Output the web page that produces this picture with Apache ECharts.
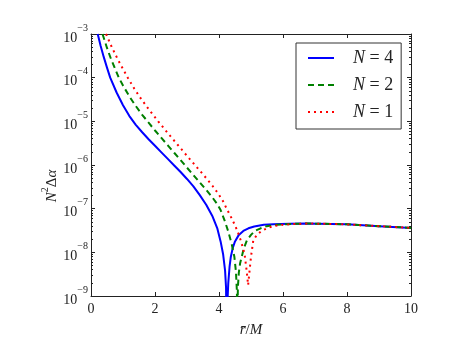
<!DOCTYPE html>
<html>
<head>
<meta charset="utf-8">
<script src="https://cdn.jsdelivr.net/npm/echarts@6/dist/echarts.min.js"></script>
<style>
html, body { margin: 0; padding: 0; background: #fff; }
#chart { width: 457px; height: 343px; }
</style>
</head>
<body>
<div id="chart"></div>
<script>
// N = 4 (blue, solid)
const rN4 = [0.21, 0.3, 0.4, 0.5, 0.6, 0.8, 1.0, 1.2, 1.4, 1.6, 1.8, 2.0, 2.2, 2.4, 2.6, 2.8, 3.0, 3.2, 3.4, 3.6,
    3.8, 3.95, 4.05, 4.13, 4.19, 4.22, 4.24, 4.26, 4.29, 4.33, 4.37, 4.43, 4.5, 4.62, 4.76, 4.92, 5.1, 5.4, 5.7, 6.2,
    6.7, 7.5, 8.0, 9.0, 10.0];
const vN4 = [1.0e-3, 5.37e-4, 2.95e-4, 1.70e-4, 1.0e-4, 4.57e-5, 2.34e-5, 1.32e-5, 8.32e-6, 5.62e-6, 3.89e-6, 2.75e-6, 1.95e-6, 1.38e-6, 9.77e-7, 6.92e-7, 4.79e-7, 3.24e-7, 2.04e-7, 1.23e-7,
    6.61e-8, 3.47e-8, 1.78e-8, 8.91e-9, 3.80e-9, 1.58e-9, 1.0e-10, 6.31e-10, 2.0e-9, 4.68e-9, 7.94e-9, 1.26e-8, 1.78e-8, 2.51e-8, 3.09e-8, 3.55e-8, 3.89e-8, 4.27e-8, 4.42e-8, 4.52e-8,
    4.57e-8, 4.47e-8, 4.37e-8, 3.98e-8, 3.63e-8];

// N = 2 (green, dashed)
const rN2 = [0.36, 0.5, 0.62, 0.75, 0.87, 1.0, 1.2, 1.4, 1.6, 1.8, 2.0, 2.2, 2.4, 2.6, 2.8, 3.0, 3.2, 3.4, 3.6, 3.8,
    3.95, 4.05, 4.19, 4.3, 4.4, 4.48, 4.53, 4.56, 4.57, 4.59, 4.62, 4.66, 4.71, 4.78, 4.87, 5.0, 5.12, 5.3, 5.49, 5.8,
    6.1, 6.7, 7.5, 8.0, 9.0, 10.0];
const vN2 = [1.0e-3, 4.79e-4, 2.75e-4, 1.62e-4, 1.0e-4, 6.61e-5, 3.72e-5, 2.24e-5, 1.41e-5, 9.33e-6, 6.17e-6, 4.17e-6, 2.82e-6, 1.91e-6, 1.29e-6, 8.71e-7, 5.89e-7, 3.98e-7, 2.69e-7, 1.78e-7,
    1.26e-7, 9.33e-8, 5.01e-8, 2.82e-8, 1.51e-8, 7.94e-9, 3.55e-9, 1.26e-9, 1.0e-10, 1.58e-9, 3.47e-9, 5.62e-9, 7.94e-9, 1.26e-8, 1.86e-8, 2.51e-8, 3.09e-8, 3.55e-8, 3.98e-8, 4.27e-8,
    4.42e-8, 4.57e-8, 4.47e-8, 4.37e-8, 3.98e-8, 3.63e-8];

// N = 1 (red, dotted)
const rN1 = [0.47, 0.65, 0.83, 1.0, 1.15, 1.35, 1.56, 1.8, 2.1, 2.4, 2.7, 3.0, 3.33, 3.6, 3.8, 3.98, 4.12, 4.24, 4.38, 4.5,
    4.6, 4.68, 4.76, 4.81, 4.87, 4.91, 4.95, 5.0, 5.07, 5.18, 5.33, 5.5, 5.7, 6.0, 6.3, 6.8, 7.5, 8.0, 9.0, 10.0];
const vN1 = [1.0e-3, 5.01e-4, 2.69e-4, 1.58e-4, 1.0e-4, 5.62e-5, 3.31e-5, 1.91e-5, 1.0e-5, 5.37e-6, 2.95e-6, 1.62e-6, 8.51e-7, 5.01e-7, 3.31e-7, 2.19e-7, 1.51e-7, 1.0e-7, 6.31e-8, 4.17e-8,
    2.75e-8, 1.86e-8, 1.17e-8, 7.94e-9, 3.47e-9, 1.78e-9, 3.47e-9, 7.94e-9, 1.86e-8, 2.51e-8, 3.09e-8, 3.55e-8, 3.98e-8, 4.27e-8, 4.42e-8, 4.57e-8, 4.47e-8, 4.37e-8, 3.98e-8, 3.63e-8];

const xTicks = [0, 2, 4, 6, 8, 10];
const yMajor = [1e-9, 1e-8, 1e-7, 1e-6, 1e-5, 1e-4, 1e-3];
const minorSteps = [2, 3, 4, 5, 6, 7, 8, 9];

const FONT = "'Liberation Serif', serif";
const AXIS_COLOR = '#222';

// minor ticks at 2..9 x 10^n
const yMinor = [];
yMajor.slice(0, -1).forEach(d => minorSteps.forEach(k => yMinor.push(k * d)));

const zip = (xs, ys) => xs.map((x, i) => [x, ys[i]]);

const chart = echarts.init(document.getElementById('chart'));

const yLabelFmt = (v) => {
    const e = Math.round(Math.log10(v));
    return '{b|10}{e|' + (e < 0 ? '\u2212' : '') + Math.abs(e) + '}';
};

// log y axis builder: left/right, major/minor
const logAxis = (pos, ticks, len, withLabel) => ({
    type: 'log',
    position: pos,
    min: 1e-9,
    max: 1e-3,
    logBase: 10,
    axisLine: { show: withLabel, lineStyle: { color: AXIS_COLOR, width: 1 } },
    axisTick: { show: true, inside: true, length: len, customValues: ticks, lineStyle: { color: AXIS_COLOR, width: 1 } },
    axisLabel: {
        show: withLabel && pos === 'left',
        customValues: yMajor,
        margin: 3,
        formatter: yLabelFmt,
        rich: {
            b: { fontFamily: FONT, fontSize: 14, color: '#222', verticalAlign: 'bottom', lineHeight: 22 },
            e: { fontFamily: FONT, fontSize: 10, color: '#222', verticalAlign: 'top', lineHeight: 12 }
        }
    },
    splitLine: { show: false }
});

const lineSeries = (name, rs, vs, color, type) => ({
    name: name, type: 'line', xAxisIndex: 0, yAxisIndex: 0,
    data: zip(rs, vs), showSymbol: false, symbol: 'none',
    smooth: false, clip: true,
    lineStyle: { color: color, width: 2, type: type, join: 'round' },
    itemStyle: { color: color }
});

const option = {
    backgroundColor: '#fff',
    animation: false,
    grid: { left: 91, right: 46, top: 34, bottom: 35, containLabel: false },
    legend: {
        orient: 'vertical',
        left: 296,
        top: 43,
        padding: [6, 8, 8, 11],
        itemWidth: 26,
        itemHeight: 14,
        itemGap: 9,
        backgroundColor: '#fff',
        borderColor: '#333',
        borderWidth: 1,
        borderRadius: 0,
        itemStyle: { opacity: 0 },
        formatter: (name) => name.replace('N', '{i|N}'),
        textStyle: {
            fontFamily: FONT,
            fontSize: 18,
            color: '#222',
            padding: [0, 0, 0, 14],
            rich: { i: { fontFamily: FONT, fontSize: 18, fontStyle: 'italic', color: '#222' } }
        },
        data: ['N = 4', 'N = 2', 'N = 1']
    },
    xAxis: [
        {
            type: 'value', position: 'bottom', min: 0, max: 10, interval: 2,
            name: '{i|r\u0304}/{i|M}',
            nameLocation: 'middle',
            nameGap: 27,
            nameTextStyle: {
                fontFamily: FONT, fontSize: 15, color: '#222',
                rich: { i: { fontFamily: FONT, fontSize: 15, fontStyle: 'italic', color: '#222' } }
            },
            axisLine: { lineStyle: { color: AXIS_COLOR, width: 1 } },
            axisTick: { inside: true, length: 4, customValues: xTicks, lineStyle: { color: AXIS_COLOR } },
            axisLabel: { margin: 6, fontFamily: FONT, fontSize: 14, color: '#222', customValues: xTicks },
            splitLine: { show: false }
        },
        {
            type: 'value', position: 'top', min: 0, max: 10, interval: 2,
            axisLine: { lineStyle: { color: AXIS_COLOR, width: 1 } },
            axisTick: { inside: true, length: 4, lineStyle: { color: AXIS_COLOR } },
            axisLabel: { show: false },
            splitLine: { show: false }
        }
    ],
    yAxis: [
        logAxis('left', yMajor, 4, true),
        logAxis('left', yMinor, 2, false),
        logAxis('right', yMajor, 4, true),
        logAxis('right', yMinor, 2, false)
    ],
    graphic: [
        {
            type: 'text',
            x: 50,
            y: 186,
            rotation: Math.PI / 2,
            style: {
                text: '{i|N}{s|2}{u|\u0394}{i|\u03b1}',
                align: 'center',
                verticalAlign: 'middle',
                rich: {
                    i: { fontFamily: FONT, fontSize: 15, fontStyle: 'italic', fill: '#222', verticalAlign: 'bottom', lineHeight: 20 },
                    s: { fontFamily: FONT, fontSize: 10, fill: '#222', verticalAlign: 'top', lineHeight: 12 },
                    u: { fontFamily: FONT, fontSize: 15, fill: '#222', verticalAlign: 'bottom', lineHeight: 20 }
                }
            }
        }
    ],
    series: [
        lineSeries('N = 4', rN4, vN4, '#0000ff', 'solid'),
        lineSeries('N = 2', rN2, vN2, '#008000', [6, 4]),
        lineSeries('N = 1', rN1, vN1, '#ff0000', [2, 4])
    ]
};

chart.setOption(option);
</script>
</body>
</html>
